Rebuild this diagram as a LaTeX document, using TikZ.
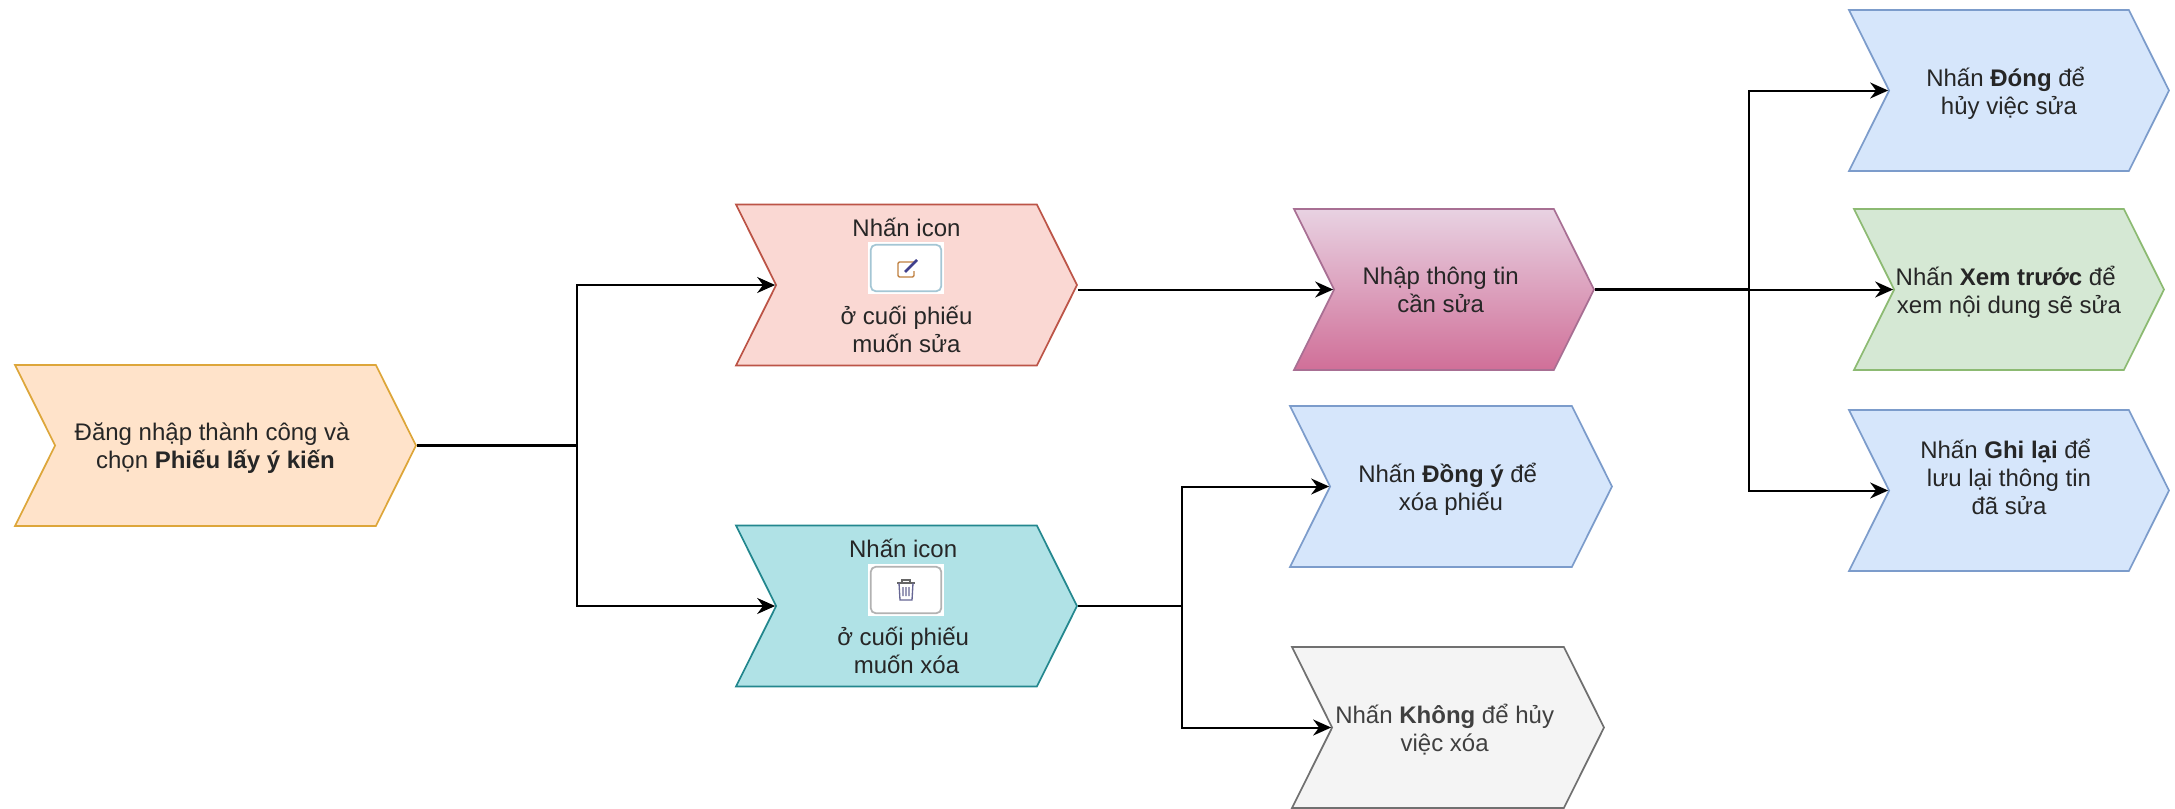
\documentclass[tikz,border=0pt]{standalone}
\usepackage{fontspec}
\setmainfont{Liberation Sans}
\usetikzlibrary{shapes.symbols,arrows.meta}
\definecolor{loginfill}{HTML}{FFE3CA}
\definecolor{loginline}{HTML}{DDA63A}
\definecolor{editfill}{HTML}{FAD8D3}
\definecolor{editline}{HTML}{BC5447}
\definecolor{delfill}{HTML}{B0E2E6}
\definecolor{delline}{HTML}{23878E}
\definecolor{bluefill}{HTML}{D6E6FB}
\definecolor{blueline}{HTML}{7C9CCB}
\definecolor{greenfill}{HTML}{D5E8D4}
\definecolor{greenline}{HTML}{8CBA72}
\definecolor{inputtop}{HTML}{E8D2E2}
\definecolor{inputbot}{HTML}{D06F98}
\definecolor{inputline}{HTML}{A86F93}
\definecolor{greyfill}{HTML}{F4F4F4}
\definecolor{greyline}{HTML}{707070}
\newcommand{\trail}{\kern5pt}
\tikzset{
  chevron/.style={shape=signal, signal from=west, signal to=east, signal pointer angle=127,
    minimum height=120.75pt, inner sep=0pt, align=center, line width=1.3pt, text=black!85, text depth=0pt,
    font={\fontsize{18}{21}\selectfont}},
  link/.style={draw=black, line width=1.5pt, -{Stealth[length=13.5pt,width=12pt]}},
  trunk/.style={draw=black, line width=2.2pt},
  iconbg/.style={fill=white, minimum width=57pt, minimum height=39pt, inner sep=0pt},
  iconbtn/.style={draw=#1, fill=white, rounded corners=4pt, line width=1.3pt, minimum width=53pt, minimum height=35pt, inner sep=0pt},
}
\begin{document}
\begin{tikzpicture}[x=0.75pt, y=-0.75pt]
  \useasboundingbox (0,0) rectangle (2175,808);
  % steps
  \node[chevron, draw=loginline, fill=loginfill, minimum width=300.75pt] (login) at (215.5,445.5)
    {Đăng nhập thành công và\trail\\chọn \textbf{Phiếu lấy ý kiến}};
  \node[chevron, draw=editline, fill=editfill, minimum width=255.75pt] (edit) at (906.5,285)
    {Nhấn icon\\[45pt]ở cuối phiếu\\muốn sửa};
  \node[chevron, draw=delline, fill=delfill, minimum width=255.75pt] (delete) at (906.5,606)
    {Nhấn icon\trail\\[45pt]ở cuối phiếu\trail\\muốn xóa};
  \node[chevron, draw=inputline, top color=inputtop, bottom color=inputbot, minimum width=225pt] (input) at (1444,289.5)
    {Nhập thông tin\trail\\cần sửa\trail};
  \node[chevron, draw=blueline, fill=bluefill, minimum width=241.5pt] (agree) at (1451,486.5)
    {Nhấn \textbf{Đồng ý} để\trail\\xóa phiếu};
  \node[chevron, draw=greyline, fill=greyfill, text=black!75, minimum width=234pt] (refuse) at (1448,727.5)
    {Nhấn \textbf{Không} để hủy\trail\\việc xóa\trail};
  \node[chevron, draw=blueline, fill=bluefill, minimum width=240pt] (cancel) at (2009,90.5)
    {Nhấn \textbf{Đóng} để\trail\\hủy việc sửa};
  \node[chevron, draw=greenline, fill=greenfill, minimum width=232.5pt] (preview) at (2009,289.5)
    {Nhấn \textbf{Xem trước} để\trail\\xem nội dung sẽ sửa};
  \node[chevron, draw=blueline, fill=bluefill, minimum width=240pt] (save) at (2009,490.5)
    {Nhấn \textbf{Ghi lại} để\trail\\lưu lại thông tin\\đã sửa\\ ~};
  % icons
  \node[iconbg] (editbg) at (906,268) {};
  \node[iconbtn=cyan!40!gray!60] (editbtn) at (editbg) {};
  \draw[orange!50!gray, line width=1pt, rounded corners=1pt] (914,262) -- (898,262) -- (898,277) -- (914,277) -- (914,271);
  \draw[blue!40!black!75, line width=2pt] (905,272) -- (917,260);
  \node[iconbg] (trashbg) at (906,590) {};
  \node[iconbtn=black!30] (trashbtn) at (trashbg) {};
  \draw[black!60, line width=1pt] (897,583) -- (915,583) (902,583) -- (902,580) -- (910,580) -- (910,583);
  \draw[blue!30!black!60, line width=1pt] (899,583) -- (900,600) -- (912,600) -- (913,583) (903,587) -- (903,596) (906,587) -- (906,596) (909,587) -- (909,596);
  % connectors
  \coordinate (busa) at (577,445.5);
  \coordinate (busb) at (1182,606);
  \coordinate (busc) at (1749,289.5);
  \draw[trunk] (login.east) -- (busa);
  \draw[trunk] (delete.east) -- (busb);
  \draw[trunk] (input.east) -- (busc);
  \foreach \t in {edit,delete} {
    \draw[link] (busa) |- (\t.west);
  }
  \foreach \t in {agree,refuse} {
    \draw[link] (busb) |- (\t.west);
  }
  \foreach \t in {cancel,preview,save} {
    \draw[link] (busc) |- (\t.west);
  }
  \draw[link] (edit.east |- input.west) -- (input.west);
\end{tikzpicture}
\end{document}
